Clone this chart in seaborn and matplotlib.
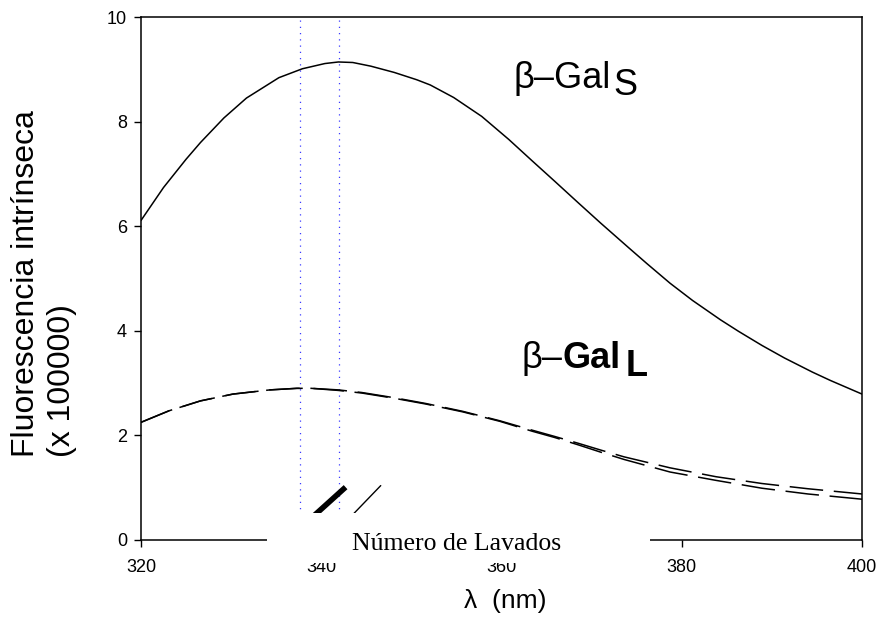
import matplotlib
matplotlib.use("Agg")
import matplotlib.pyplot as plt
from matplotlib.patches import Rectangle
import seaborn as sns
import pandas as pd

# ---------------- data ----------------
wl_s = [320, 322.5, 325, 326.6, 329.2, 331.7, 335.3, 337.9, 340.4, 341.9, 343.5,
        345.5, 348.1, 350.6, 352.1, 354.7, 357.8, 360.8, 363.4, 365.9, 368.5,
        371.0, 374.1, 376.1, 378.7, 381.2, 384.3, 386.3, 388.9, 391.4, 394.5,
        396.5, 400]
gal_s = [6.11, 6.74, 7.28, 7.60, 8.07, 8.45, 8.84, 9.01, 9.11, 9.14, 9.13,
         9.06, 8.94, 8.80, 8.70, 8.46, 8.10, 7.66, 7.25, 6.86, 6.45,
         6.06, 5.59, 5.29, 4.91, 4.58, 4.21, 3.99, 3.72, 3.48, 3.21,
         3.05, 2.79]

wl_l = [320, 323.1, 326.6, 330.2, 334.3, 337.3, 338.9, 341.9, 344.5, 348.1,
        351.6, 355.7, 359.8, 363.4, 365.9, 368.5, 371.0, 373.6, 378.7, 383.8,
        388.9, 394.0, 400]
gal_l1 = [2.25, 2.47, 2.66, 2.79, 2.87, 2.90, 2.90, 2.87, 2.82, 2.72,
          2.61, 2.46, 2.28, 2.10, 1.98, 1.85, 1.72, 1.59, 1.38, 1.21,
          1.08, 0.98, 0.88]
gal_l2 = [2.25, 2.47, 2.66, 2.79, 2.87, 2.90, 2.90, 2.86, 2.81, 2.71,
          2.60, 2.45, 2.27, 2.08, 1.96, 1.82, 1.68, 1.54, 1.30, 1.14,
          0.99, 0.88, 0.78]

peak_lines = [337.6, 342.0]          # dotted vertical markers
x_ticks = [320, 340, 360, 380, 400]
y_ticks = [0, 2, 4, 6, 8, 10]

# remnant strokes of an inset legend (x0, y0, x1, y1)
stroke_thick = [339.1, 0.45, 342.7, 1.01]
stroke_thin = [343.3, 0.45, 346.6, 1.04]

# ---------------- style ----------------
sns.set_style("ticks")
plt.rcParams["font.family"] = ["Liberation Sans", "DejaVu Sans"]
plt.rcParams["text.color"] = "black"

fig = plt.figure(figsize=(8.81, 6.39), dpi=100)
ax = fig.add_axes([141 / 881, 99 / 639, 721 / 881, 523 / 639])

df_s = pd.DataFrame({"wl": wl_s, "v": gal_s})
df_l1 = pd.DataFrame({"wl": wl_l, "v": gal_l1})
df_l2 = pd.DataFrame({"wl": wl_l, "v": gal_l2})

for xv in peak_lines:
    ax.axvline(xv, color="#3a3aff", lw=0.9, linestyle=(0, (1, 4)), zorder=1)

sns.lineplot(data=df_s, x="wl", y="v", ax=ax, color="black", lw=1.1,
             estimator=None, sort=False, zorder=3)
sns.lineplot(data=df_l1, x="wl", y="v", ax=ax, color="black", lw=1.1,
             estimator=None, sort=False, linestyle=(0, (22, 7)), zorder=3)
sns.lineplot(data=df_l2, x="wl", y="v", ax=ax, color="black", lw=1.1,
             estimator=None, sort=False, linestyle=(2, (22, 7)), zorder=3)

ax.plot([stroke_thick[0], stroke_thick[2]], [stroke_thick[1], stroke_thick[3]],
        color="black", lw=4, solid_capstyle="butt", zorder=3)
ax.plot([stroke_thin[0], stroke_thin[2]], [stroke_thin[1], stroke_thin[3]],
        color="black", lw=1, zorder=3)

ax.set_xlim(320, 400)
ax.set_ylim(0, 10)
ax.set_xticks(x_ticks)
ax.set_yticks(y_ticks)
ax.set_xticklabels([str(t) for t in x_ticks])
ax.set_yticklabels([str(t) for t in y_ticks])
ax.tick_params(axis="both", direction="out", length=5, width=1,
               colors="black", labelcolor="black", labelsize=13,
               bottom=True, left=True, top=False, right=False)
ax.tick_params(axis="x", pad=9)
ax.tick_params(axis="y", pad=5)
ax.set_xlabel("")
ax.set_ylabel("")
for sp in ax.spines.values():
    sp.set_color("black")
    sp.set_linewidth(1.1)
    sp.set_visible(True)

# curve labels
ax.text(361.3, 8.64, "β–Gal", fontsize=26, ha="left", va="baseline", color="black")
ax.text(372.4, 8.50, "S", fontsize=26, ha="left", va="baseline", color="black")
ax.text(362.2, 3.29, "β–", fontsize=26, ha="left", va="baseline", color="black")
ax.text(366.8, 3.29, "Gal", fontsize=26, fontweight="bold", ha="left",
        va="baseline", color="black")
ax.text(373.8, 3.13, "L", fontsize=26, fontweight="bold", ha="left",
        va="baseline", color="black")

# axis titles
fig.text(26 / 881, 1 - 457 / 639, "Fluorescencia intrínseca", rotation=90,
         fontsize=23, ha="center", va="bottom", color="black")
fig.text(62 / 881, 1 - 457 / 639, "(x 100000)", rotation=90,
         fontsize=23, ha="center", va="bottom", color="black")
fig.text(505 / 881, 1 - 601 / 639, "λ  (nm)", fontsize=19,
         ha="center", va="center", color="black")

# white box covering part of the x axis, with its title
fig.patches.append(Rectangle((267 / 881, 1 - 563 / 639), 383 / 881, 50 / 639,
                             transform=fig.transFigure, facecolor="white",
                             edgecolor="none", zorder=5))
fig.text(457 / 881, 1 - 550 / 639, "Número de Lavados", fontsize=18.5,
         family="Liberation Serif", ha="center", va="baseline", zorder=6,
         color="black")

fig.savefig("out.png", dpi=100)
